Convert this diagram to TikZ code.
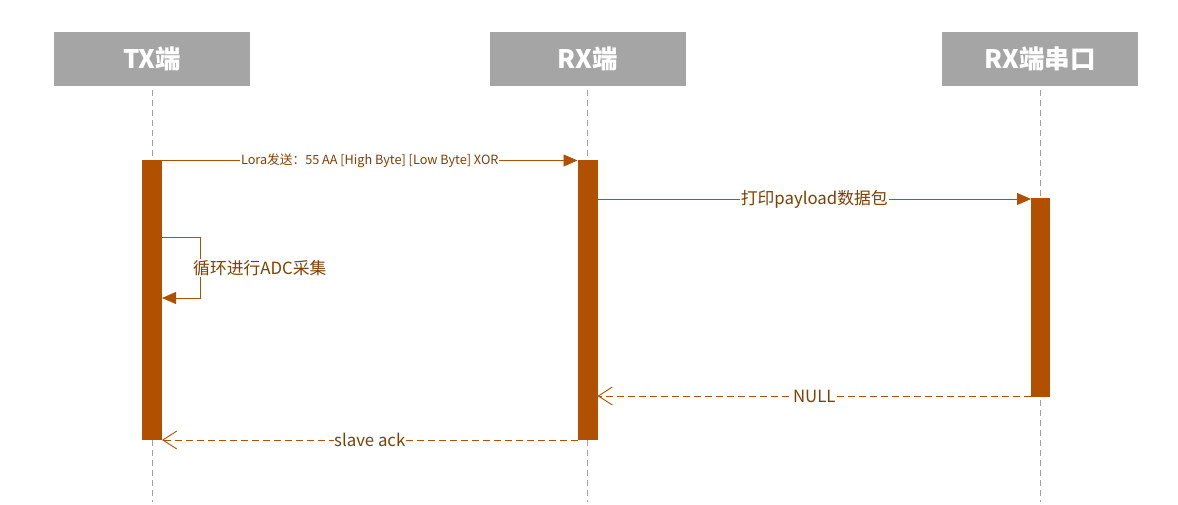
\documentclass[tikz,border=0pt]{standalone}
\usepackage{fontspec}
\setmainfont{Noto Sans CJK SC}
\usetikzlibrary{arrows.meta}
\definecolor{hdr}{RGB}{165,165,165}
\definecolor{bar}{RGB}{176,80,0}
\definecolor{txt}{RGB}{128,64,0}
\definecolor{life}{RGB}{160,160,160}
\tikzset{
  x=1pt,y=-1pt,
  header/.style={fill=hdr,draw=none,minimum width=196pt,minimum height=54pt,text=white,font=\bfseries\fontsize{25.5}{28}\selectfont,inner sep=0pt},
  lifeline/.style={draw=life,dash pattern=on 6pt off 4pt,line width=0.8pt},
  actbar/.style={fill=bar,draw=none},
  msg/.style={draw=bar,line width=0.9pt,-{Triangle[length=14pt,width=12pt]}},
  ret/.style={draw=bar,line width=0.9pt,dash pattern=on 7pt off 4pt,-{Straight Barb[length=14pt,width=18pt,line width=0.9pt]}},
  lbl/.style={fill=white,text=txt,inner sep=1pt,font=\fontsize{16.8}{19}\selectfont},
  slbl/.style={fill=white,text=txt,inner sep=1pt,font=\fontsize{12.7}{14}\selectfont},
}
\begin{document}
\begin{tikzpicture}
\useasboundingbox (0,0) rectangle (1178,505);
% headers
\node[header] (tx) at (152,59) {TX端};
\node[header] (rx) at (587.5,59) {RX端};
\node[header] (sp) at (1040,59) {RX端串口};
% lifeline ends
\coordinate (txe) at (152,502);
\coordinate (rxe) at (587.5,502);
\coordinate (spe) at (1040,502);
\draw[lifeline] (tx.south) ++(0,4) -- (txe);
\draw[lifeline] (rx.south) ++(0,4) -- (rxe);
\draw[lifeline] (sp.south) ++(0,4) -- (spe);
% activation bars
\node[actbar,minimum width=20pt,minimum height=280pt,inner sep=0pt,anchor=north] (txb) at (152,160) {};
\node[actbar,minimum width=20pt,minimum height=280pt,inner sep=0pt,anchor=north] (rxb) at (587.5,160) {};
\node[actbar,minimum width=19pt,minimum height=199pt,inner sep=0pt,anchor=north] (spb) at (1040.5,198) {};
% messages
\coordinate (a1) at (162,160.5);
\coordinate (a2) at (577.5,160.5);
\draw[msg] (a1) -- node[slbl,pos=0.5] {Lora发送：55 AA [High Byte] [Low Byte] XOR} (a2);
\coordinate (b1) at (597.5,199);
\coordinate (b2) at (1031,199);
\draw[msg] (b1) -- node[lbl] {打印payload数据包} (b2);
% self loop
\coordinate (l1) at (162,237);
\coordinate (l2) at (200,237);
\coordinate (l3) at (200,298);
\coordinate (l4) at (162,298);
\draw[msg] (l1) -- (l2) -- (l3) -- (l4);
\node[lbl,anchor=west] (looplbl) at (192,268) {循环进行ADC采集};
% returns
\coordinate (c1) at (1031,396);
\coordinate (c2) at (597.5,396);
\draw[ret] (c1) -- node[lbl,inner sep=0pt] {NULL} (c2);
\coordinate (d1) at (577.5,440);
\coordinate (d2) at (162,440);
\draw[ret] (d1) -- node[lbl,inner sep=0pt] {slave ack} (d2);
\end{tikzpicture}
\end{document}
